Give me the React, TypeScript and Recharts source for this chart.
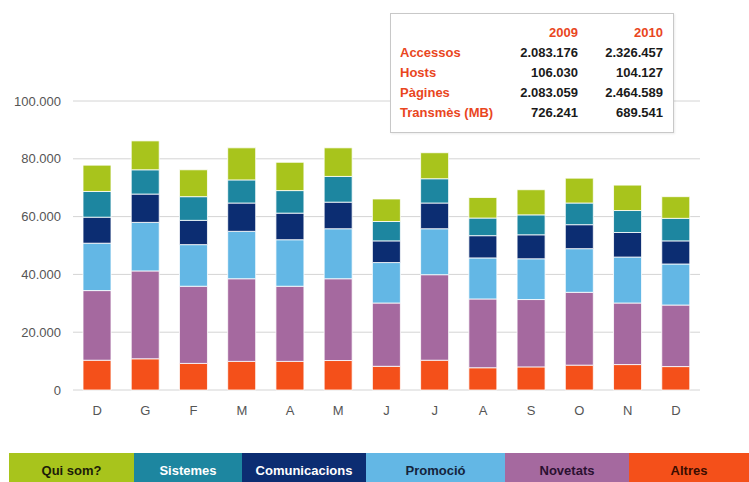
import React from 'react';
import { BarChart, Bar, XAxis, YAxis, CartesianGrid } from 'recharts';

const months = ['D', 'G', 'F', 'M', 'A', 'M', 'J', 'J', 'A', 'S', 'O', 'N', 'D'];
const altres = [10300, 10800, 9200, 9900, 9900, 10200, 8200, 10300, 7700, 8000, 8600, 8800, 8100];
const novetats = [24100, 30400, 26700, 28600, 26000, 28300, 21900, 29600, 23800, 23300, 25200, 21300, 21300];
const promocio = [16400, 16800, 14400, 16400, 16100, 17300, 14000, 15900, 14200, 14100, 15100, 15900, 14200];
const comunicacions = [9000, 9800, 8400, 9800, 9200, 9200, 7500, 8900, 7700, 8300, 8300, 8500, 8000];
const sistemes = [8900, 8400, 8200, 8000, 7800, 8900, 6700, 8400, 6100, 6900, 7500, 7600, 7800];
const quiSom = [9100, 10000, 9300, 11100, 9800, 9900, 7800, 9000, 7100, 8700, 8600, 8800, 7500];
const yTicks = [0, 20000, 40000, 60000, 80000, 100000];

const seriesNames = ['Qui som?', 'Sistemes', 'Comunicacions', 'Promoció', 'Novetats', 'Altres'];
const seriesKeys = ['quiSom', 'sistemes', 'comunicacions', 'promocio', 'novetats', 'altres'];
const seriesColors = ['#a8c41c', '#1d86a0', '#0c2d72', '#63b7e5', '#a5699f', '#f4501a'];
const legendTextColors = ['#1c1c08', '#ffffff', '#ffffff', '#14243c', '#2a1030', '#3a0c00'];
const legendEdges = [9, 134, 242, 366, 505, 629, 749];

const statsYears = ['2009', '2010'];
const statsLabels = ['Accessos', 'Hosts', 'Pàgines', 'Transmès (MB)'];
const stats2009 = ['2.083.176', '106.030', '2.083.059', '726.241'];
const stats2010 = ['2.326.457', '104.127', '2.464.589', '689.541'];
const statsRowCenters = [53, 72.5, 93, 113];

const data = months.map((m, i) => ({
  key: i,
  label: m,
  altres: altres[i],
  novetats: novetats[i],
  promocio: promocio[i],
  comunicacions: comunicacions[i],
  sistemes: sistemes[i],
  quiSom: quiSom[i],
}));

const fmt = (v: number) => String(v).replace(/\B(?=(\d{3})+(?!\d))/g, '.');
const FONT = '"Liberation Sans", Arial, Helvetica, sans-serif';
const ORANGE = '#e9461e';

const stackOrder = [5, 4, 3, 2, 1, 0];

export default function App() {
  const txt = (content: string, left: number, centerY: number, opts: any = {}) => (
    <div
      style={{
        position: 'absolute',
        left: opts.right === undefined ? left : undefined,
        right: opts.right !== undefined ? 749 - opts.right : undefined,
        top: centerY - 8,
        height: 16,
        lineHeight: '16px',
        fontSize: 13,
        fontWeight: opts.bold ? 'bold' : 'normal',
        color: opts.color || '#111',
        whiteSpace: 'nowrap',
        fontFamily: FONT,
      }}
    >
      {content}
    </div>
  );

  return (
    <div style={{ position: 'absolute', left: 0, top: 0, width: 749, height: 482, background: '#fff', overflow: 'hidden', fontFamily: FONT }}>
      <BarChart
        width={749}
        height={430}
        data={data}
        margin={{ top: 101, right: 49, bottom: 10, left: 0 }}
        barSize={28}
      >
        <CartesianGrid vertical={false} stroke="#d4d4d4" />
        <XAxis
          dataKey="key"
          tickFormatter={(v: number) => months[v]}
          axisLine={false}
          tickLine={false}
          tickMargin={10}
          height={30}
          interval={0}
          tick={{ fill: '#555', fontSize: 13, fontFamily: FONT }}
        />
        <YAxis
          domain={[0, 100000]}
          ticks={yTicks}
          tickFormatter={fmt}
          axisLine={false}
          tickLine={false}
          tickMargin={6}
          width={73}
          tick={{ fill: '#555', fontSize: 13, fontFamily: FONT }}
        />
        {stackOrder.map((i) => (
          <Bar
            key={seriesKeys[i]}
            dataKey={seriesKeys[i]}
            name={seriesNames[i]}
            stackId="s"
            fill={seriesColors[i]}
            stroke="#ffffff"
            strokeWidth={0.8}
            isAnimationActive={false}
          />
        ))}
      </BarChart>

      <div
        style={{
          position: 'absolute',
          left: 390,
          top: 13,
          width: 282,
          height: 118,
          border: '1px solid #c8c8c8',
          background: '#fff',
          boxShadow: '1px 1px 2px rgba(0,0,0,0.08)',
        }}
      />
      {txt(statsYears[0], 0, 33, { right: 578, bold: true, color: ORANGE })}
      {txt(statsYears[1], 0, 33, { right: 663, bold: true, color: ORANGE })}
      {statsLabels.map((l, i) => (
        <React.Fragment key={l}>
          {txt(l, 400, statsRowCenters[i], { bold: true, color: ORANGE })}
          {txt(stats2009[i], 0, statsRowCenters[i], { right: 578, bold: true, color: '#1a1a1a' })}
          {txt(stats2010[i], 0, statsRowCenters[i], { right: 663, bold: true, color: '#1a1a1a' })}
        </React.Fragment>
      ))}

      {seriesNames.map((n, i) => (
        <div
          key={n}
          style={{
            position: 'absolute',
            left: legendEdges[i],
            top: 453,
            width: legendEdges[i + 1] - legendEdges[i],
            height: 29,
            background: seriesColors[i],
            color: legendTextColors[i],
            fontSize: 13,
            fontWeight: 'bold',
            textAlign: 'center',
            lineHeight: '29px',
            paddingTop: 3,
            boxSizing: 'border-box',
            fontFamily: FONT,
          }}
        >
          {n}
        </div>
      ))}
    </div>
  );
}
